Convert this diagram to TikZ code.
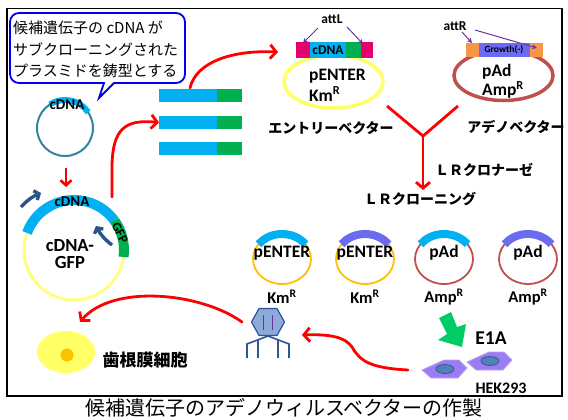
\documentclass[tikz,border=0pt]{standalone}
\usepackage{fontspec}
\setmainfont{Carlito}
\newfontfamily\jp{Noto Sans CJK JP}
\newfontfamily\lat{Carlito}
\usetikzlibrary{arrows.meta}

\definecolor{arrred}{HTML}{FF0000}
\definecolor{barcyan}{HTML}{00B0F0}
\definecolor{bargreen}{HTML}{00B050}
\definecolor{attmag}{HTML}{E6006E}
\definecolor{attorange}{HTML}{F79646}
\definecolor{growthblue}{HTML}{6B6BF0}
\definecolor{plyellow}{HTML}{FFFF66}
\definecolor{plgold}{HTML}{FFC000}
\definecolor{plbrown}{HTML}{C0504D}
\definecolor{plteal}{HTML}{31859C}
\definecolor{attpurple}{HTML}{7030A0}
\definecolor{primerblue}{HTML}{2A5588}
\definecolor{virusfill}{HTML}{8EAADB}
\definecolor{virusline}{HTML}{2F5597}
\definecolor{cellpurple}{HTML}{9C7CF4}
\definecolor{cellnuc}{HTML}{4F81BD}
\definecolor{blockgreen}{HTML}{00CC66}
\definecolor{bubbleblue}{HTML}{0000EE}

\begin{document}
\begin{tikzpicture}[x=1pt,y=-1pt,
  lbl/.style={font=\lat\bfseries, inner sep=0pt},
  jplbl/.style={font=\jp\bfseries, inner sep=0pt},
  redarrow/.style={draw=arrred, line width=2.8pt, line cap=round,
    -{Straight Barb[length=6pt,width=14pt]}},
  redline/.style={draw=arrred, line width=2.8pt},
  primer/.style={draw=primerblue, line width=3.4pt,
    -{Straight Barb[length=4pt,width=10pt]}},
  attarrow/.style={draw=attpurple, line width=1pt, -{Stealth[length=5pt,width=5pt]}},
  bubble/.style={draw=bubbleblue, line width=1.8pt, fill=white},
  cellhex/.style={fill=cellpurple, draw=cellpurple!70!white, line width=0.8pt},
  nucleus/.style={fill=cellnuc, draw=cellnuc!70!black, line width=0.8pt},
]
\useasboundingbox (0,0) rectangle (568,420);
\fill[white] (0,0) rectangle (568,420);

% outer frame
\draw[line width=1.3pt] (7,8.5) rectangle (562,396);

% title
\node[font=\jp, inner sep=0pt] (title) at (284,408) {\fontsize{20}{24}\selectfont 候補遺伝子のアデノウィルスベクターの作製};

% speech bubble
\path[bubble] (19,13) -- (176,13) arc[start angle=-90,end angle=0,radius=9]
  -- (185,74) arc[start angle=0,end angle=90,radius=9]
  -- (114,83) -- (99,98) -- (104,83)
  -- (19,83) arc[start angle=90,end angle=180,radius=9]
  -- (10,22) arc[start angle=180,end angle=270,radius=9] -- cycle;
\begin{scope}[every node/.style={font=\jp\fontsize{15}{18}\selectfont, inner sep=0pt, anchor=west}]
  \node (b1) at (13,28) {候補遺伝子の cDNA が};
  \node (b2) at (13,50) {サブクローニングされた};
  \node (b3) at (13,71) {プラスミドを鋳型とする};
\end{scope}

% cDNA plasmid
\coordinate (cp) at (65,128);
\draw[plteal, line width=2pt] (cp) circle[radius=28];
\draw[barcyan, line width=6pt] (cp) ++(-34:28) arc[start angle=-34,end angle=-123,radius=28];
\node[lbl, font=\lat\bfseries\fontsize{15}{15}\selectfont] (cdna1) at (67,105) {cDNA};

% cDNA-GFP plasmid
\coordinate (gp) at (74,250);
\draw[plyellow!85!white, line width=3pt] (gp) circle[radius=50];
\draw[barcyan, line width=10pt] (gp) ++(-36:50) arc[start angle=-36,end angle=-160,radius=50];
\draw[bargreen, line width=10pt] (gp) ++(8:50) arc[start angle=8,end angle=-36,radius=50];
\node[lbl, font=\lat\bfseries\fontsize{15}{15}\selectfont] (cdna2) at (72,202) {cDNA};
\node[lbl, font=\lat\bfseries\fontsize{13}{13}\selectfont, rotate=-62] (gfp) at (120,233) {GFP};
\node[lbl, font=\lat\bfseries\fontsize{18.5}{17}\selectfont, align=center] (gpname) at (70,254) {cDNA-\\GFP};
\coordinate (pr1a) at (21,207);
\coordinate (pr1b) at (41,193);
\draw[primer] (pr1a) to[bend left=12] (pr1b);
\coordinate (pr2a) at (112,245);
\coordinate (pr2b) at (96,226);
\draw[primer] (pr2a) to[bend left=12] (pr2b);

% arrow cDNA -> cDNA-GFP
\coordinate (a1s) at (66,168);
\coordinate (a1e) at (66,187);
\draw[draw=arrred, line width=2.6pt, -{Straight Barb[length=5pt,width=11pt]}] (a1s) -- (a1e);

% PCR products
\foreach \y/\n in {89/1,116/2,142/3}{
  \fill[barcyan] (159,\y) rectangle (217,\y+13);
  \fill[bargreen] (217,\y) rectangle (242,\y+13);
  \coordinate (bar\n) at (159,\y+6.5);
}
\coordinate (bar1top) at (190,88);

% arrow cDNA-GFP -> PCR products
\coordinate (a2s) at (112,197);
\draw[redarrow] (a2s) -- (112,165) .. controls (113,130) and (124,119) .. (bar2);

% entry vector
\coordinate (ep) at (333.5,81.5);
\draw[plyellow, line width=3.5pt] (ep) ellipse[x radius=49.5, y radius=26.5];
\fill[attmag] (296,42) rectangle (310,58);
\fill[barcyan] (310,42) rectangle (346,58);
\fill[bargreen] (346,42) rectangle (361,58);
\fill[attmag] (361,42) rectangle (373,58);
\node[lbl, font=\lat\bfseries\fontsize{13.5}{13.5}\selectfont] (cdna3) at (328,50) {cDNA};
\node[lbl, font=\lat\bfseries\fontsize{13.5}{13.5}\selectfont] (attl) at (332,19) {attL};
\coordinate (attlA) at (303,43);
\coordinate (attlB) at (363,44);
\draw[attarrow] (318,28) -- (attlA);
\draw[attarrow] (347,27) -- (attlB);
\node[lbl, font=\lat\bfseries\fontsize{17.5}{17.5}\selectfont, anchor=west] (pentname) at (309,76) {pENTER};
\node[lbl, font=\lat\bfseries\fontsize{17.5}{17.5}\selectfont, anchor=west] (pentkm) at (309,94) {Km\textsuperscript{R}};
\node[jplbl, font=\jp\bfseries\fontsize{14}{14}\selectfont] (entlabel) at (331,128) {エントリーベクター};
\coordinate (enttarget) at (278,52);
\draw[redarrow] (bar1top) .. controls (196,62) and (232,50) .. (enttarget);

% adeno vector
\coordinate (ap) at (503.5,75.5);
\draw[plbrown, line width=3.5pt] (ap) ellipse[x radius=49.5, y radius=25];
\fill[attorange] (466,43) rectangle (479,57);
\fill[growthblue] (479,43) rectangle (530,57);
\fill[attorange] (530,43) rectangle (543,57);
\node[lbl, font=\lat\bfseries\fontsize{9.5}{9.5}\selectfont] (growth) at (504,50) {Growth(-)};
\node[lbl, font=\lat\bfseries\fontsize{13.5}{13.5}\selectfont] (attr) at (455,26) {attR};
\coordinate (attrA) at (472,43);
\coordinate (attrB) at (537,48);
\draw[attarrow] (462,32) -- (attrA);
\draw[attarrow] (475,30) -- (attrB);
\node[lbl, font=\lat\bfseries\fontsize{17.5}{17.5}\selectfont, anchor=west] (padname) at (482,72) {pAd};
\node[lbl, font=\lat\bfseries\fontsize{17.5}{17.5}\selectfont, anchor=west] (padamp) at (482,90) {Amp\textsuperscript{R}};
\node[jplbl, font=\jp\bfseries\fontsize{14}{14}\selectfont] (adlabel) at (516,127) {アデノベクター};

% LR reaction
\coordinate (yl) at (387,106);
\coordinate (yr) at (458,106);
\coordinate (yj) at (423,136);
\coordinate (ye) at (423,190);
\draw[redline, line join=miter] (yl) -- (yj) -- (yr);
\draw[redarrow] (yj) -- (ye);
\node[jplbl, font=\jp\bfseries\fontsize{14}{14}\selectfont] (lrc) at (484,170) {ＬＲクロナーゼ};
\node[jplbl, font=\jp\bfseries\fontsize{14}{14}\selectfont] (lrcl) at (420,199) {ＬＲクローニング};

% products of the LR reaction
\foreach \x/\ring/\arc/\nm/\res/\i in {282/plgold/barcyan/pENTER/Km/1,365/plgold/growthblue/pENTER/Km/2,444/plbrown/barcyan/pAd/Amp/3,528/plbrown/growthblue/pAd/Amp/4}{
  \coordinate (lr\i) at (\x,259);
  \draw[\ring, line width=1.8pt] (lr\i) ellipse[x radius=29, y radius=25];
  \draw[\arc, line width=8pt] (lr\i) ++(-36:29 and 25) arc[start angle=-36,end angle=-144,x radius=29,y radius=25];
  \node[lbl, font=\lat\bfseries\fontsize{17.5}{17.5}\selectfont] (lrname\i) at (\x,253) {\nm};
  \node[lbl, font=\lat\bfseries\fontsize{16.5}{16.5}\selectfont] (lrres\i) at (\x,297) {\res\textsuperscript{R}};
}

% adenovirus particle
\coordinate (vc) at (268,322);
\filldraw[fill=virusfill, draw=virusline, line width=1.2pt]
  (251.5,322) -- (259,308.5) -- (277,308.5) -- (284.5,322) -- (277,335.5) -- (259,335.5) -- cycle;
\draw[attpurple, line width=1.6pt] (263.5,315) -- (263.5,330) (272.5,315) -- (272.5,330);
\coordinate (vapex) at (268,336);
\draw[virusline, line width=1.6pt] (vapex) -- (247,344) -- (247,358);
\draw[virusline, line width=1.6pt] (vapex) -- (289,344) -- (289,358);
\draw[virusline, line width=1.6pt] (258,340) -- (258,358);
\draw[virusline, line width=1.6pt] (278,340) -- (278,358);
\coordinate (vleft) at (242,322);
\coordinate (vright) at (302,335);

% periodontal ligament cell
\coordinate (plc) at (66,352);
\fill[plyellow] (plc) ellipse[x radius=29, y radius=21];
\fill[plgold] (67,355) circle[radius=6.5];
\node[jplbl, font=\jp\bfseries\fontsize{17}{17}\selectfont] (pllabel) at (145,360) {歯根膜細胞};
\coordinate (celltarget) at (80,322);
\draw[redarrow] (vleft) .. controls (200,292) and (112,284) .. (celltarget);

% packaging cells
\filldraw[cellhex] (444,360) -- (459,360) -- (467,368) -- (458,378) -- (431,378) -- (422,370) -- cycle;
\filldraw[nucleus] (445,369) ellipse[x radius=9, y radius=4.5];
\filldraw[cellhex] (489,352) -- (504,352) -- (512,360) -- (503,370) -- (476,370) -- (467,362) -- cycle;
\filldraw[nucleus] (490,361) ellipse[x radius=9, y radius=4.5];
\node[lbl, font=\lat\bfseries\fontsize{19.5}{19.5}\selectfont] (e1a) at (491,338) {E1A};
\node[lbl, font=\lat\bfseries\fontsize{16}{16}\selectfont] (hek) at (501,388) {HEK293};
\coordinate (hekstart) at (408,370);
\draw[redarrow] (hekstart) .. controls (370,368) and (360,361) .. (352,347)
  .. controls (345,337) and (330,334) .. (vright);

% transfection arrow
\fill[blockgreen] (439,318) -- (451,312) -- (457,327) -- (466,324) -- (462,347) -- (438,340) -- (447,334) -- cycle;
\end{tikzpicture}
\end{document}
